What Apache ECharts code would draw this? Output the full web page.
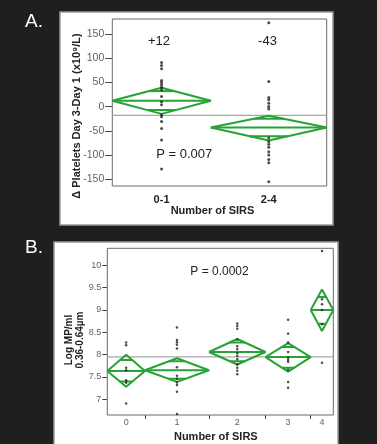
<!DOCTYPE html>
<html><head><meta charset="utf-8">
<script src="https://cdn.jsdelivr.net/npm/echarts@6/dist/echarts.min.js"></script>
<style>html,body{margin:0;padding:0;background:#1f1f1f;}#c{width:377px;height:444px;}</style>
</head><body><div id="c"></div>
<script>
// ---------- Panel A data ----------
const catsA = ['0-1', '2-4'];
const sizesA = [17, 20];
const meansA = [12, -43];
const ciHiA = [39, -19];
const ciLoA = [-15, -70];
const ovHiA = [32, -25];
const ovLoA = [-7, -61];
const grandMeanA = -18;
const ptsA0 = [91, 85, 78, 54, 50, 45, 40, 35, 21, 10, 4, -17, -21, -31, -45, -69, -129];
const ptsA1 = [173, 52, 19, 14, 7, 0, -5, -65, -72, -78, -84, -93, -100, -109, -116, -155];
const yTicksA = [-150, -100, -50, 0, 50, 100, 150];
const meanLabelsA = ['+12', '-43'];
const pLabelA = 'P = 0.007';

// ---------- Panel B data ----------
const catsB = ['0', '1', '2', '3', '4'];
const sizesB = [10, 17, 15, 12, 6];
const meansB = [7.635, 7.65, 8.06, 7.945, 9.0];
const ciHiB = [8.0, 7.92, 8.35, 8.26, 9.46];
const ciLoB = [7.28, 7.39, 7.78, 7.62, 8.53];
const ovHiB = [7.88, 7.85, 8.27, 8.17, 9.29];
const ovLoB = [7.40, 7.46, 7.85, 7.71, 8.69];
const grandMeanB = 7.95;
const ptsB0 = [8.27, 8.21, 7.71, 7.65, 7.43, 7.37, 6.91];
const ptsB1 = [8.61, 8.33, 8.28, 8.22, 8.14, 7.72, 7.53, 7.46, 7.38, 7.32, 7.17, 6.67];
const ptsB2 = [8.70, 8.64, 8.58, 8.34, 8.19, 8.12, 8.03, 7.97, 7.90, 7.78, 7.71, 7.64, 7.56];
const ptsB3 = [8.78, 8.47, 8.27, 8.06, 7.93, 7.88, 7.84, 7.66, 7.39, 7.26];
const ptsB4 = [10.32, 9.24, 9.13, 9.0, 8.68, 7.82];
const yTicksB = [7, 7.5, 8, 8.5, 9, 9.5, 10];
const pLabelB = 'P = 0.0002';

const GREEN = '#27a235';
const FONT = 'Liberation Sans';
const TICKCOL = '#5e5e7a';

function bounds(sizes) {
  let acc = 0;
  return sizes.map(s => { const b = [acc, acc + s]; acc += s; return b; });
}
function total(sizes) { return sizes.reduce((a, b) => a + b, 0); }
function centers(sizes) { return bounds(sizes).map(b => (b[0] + b[1]) / 2); }
function dividers(sizes) { return bounds(sizes).slice(0, -1).map(b => b[1]); }

function diamondSeries(idx, sizes, means, hi, lo, ovHi, ovLo) {
  const out = [];
  bounds(sizes).forEach(([x0, x1], i) => {
    const xc = (x0 + x1) / 2, h = (x1 - x0) / 2, m = means[i];
    const fu = 1 - (ovHi[i] - m) / (hi[i] - m);
    const fl = 1 - (m - ovLo[i]) / (m - lo[i]);
    const paths = [
      [[x0, m], [xc, hi[i]], [x1, m], [xc, lo[i]], [x0, m]],
      [[x0, m], [x1, m]],
      [[xc - fu * h, ovHi[i]], [xc + fu * h, ovHi[i]]],
      [[xc - fl * h, ovLo[i]], [xc + fl * h, ovLo[i]]]
    ];
    paths.forEach(d => out.push({
      type: 'line', xAxisIndex: idx, yAxisIndex: idx, data: d, symbol: 'none',
      silent: true, z: 4, lineStyle: { color: GREEN, width: 2 }
    }));
  });
  return out;
}
function pointSeries(idx, sizes, groups, size) {
  const c = centers(sizes);
  return groups.map((g, i) => ({
    type: 'scatter', xAxisIndex: idx, yAxisIndex: idx, silent: true, z: 5,
    symbol: 'circle', symbolSize: size, itemStyle: { color: '#222' },
    data: g.map(v => [c[i], v])
  }));
}
function grandSeries(idx, sizes, g) {
  return {
    type: 'line', xAxisIndex: idx, yAxisIndex: idx, symbol: 'none', silent: true, z: 3,
    lineStyle: { color: '#a8a8a8', width: 1.2 }, data: [[0, g], [total(sizes), g]]
  };
}
function xAxisFor(idx, sizes, cats, labelFont, labelBold, labelMargin, tickLen, nameGap, namePadR, nameSize) {
  const c = centers(sizes);
  return {
    type: 'value', gridIndex: idx, min: 0, max: total(sizes),
    axisLine: { show: false }, splitLine: { show: false },
    axisTick: { show: true, customValues: dividers(sizes), length: tickLen, lineStyle: { color: '#444' } },
    axisLabel: {
      show: true, customValues: c, margin: labelMargin, fontSize: labelFont, fontFamily: FONT,
      fontWeight: labelBold ? 'bold' : 'normal', color: labelBold ? '#222' : TICKCOL,
      formatter: v => { const k = c.findIndex(x => Math.abs(x - v) < 1e-6); return k >= 0 ? cats[k] : ''; }
    },
    name: 'Number of SIRS', nameLocation: 'middle', nameGap: nameGap,
    nameTextStyle: { fontFamily: FONT, fontWeight: 'bold', fontSize: nameSize, color: '#222', padding: [0, namePadR, 0, 0] }
  };
}
function yAxisFor(idx, min, max, ticks, fs, tickLen, margin) {
  return {
    type: 'value', gridIndex: idx, min: min, max: max,
    axisLine: { show: false }, splitLine: { show: false },
    axisTick: { show: true, customValues: ticks, length: tickLen, lineStyle: { color: '#444' } },
    axisLabel: { show: true, customValues: ticks, margin: margin, fontSize: fs, fontFamily: FONT, color: TICKCOL }
  };
}

const chart = echarts.init(document.getElementById('c'), null, { renderer: 'canvas' });
const option = {
  backgroundColor: '#1f1f1f',
  animation: false,
  grid: [
    { left: 112.3, top: 19, right: 50.3, bottom: 258, show: true, borderColor: '#6a6a6a', borderWidth: 1, backgroundColor: '#fff', z: 1 },
    { left: 107.3, top: 248.3, right: 43.7, bottom: 29, show: true, borderColor: '#6a6a6a', borderWidth: 1, backgroundColor: '#fff', z: 1 }
  ],
  xAxis: [
    xAxisFor(0, sizesA, catsA, 11, true, 8, 5, 19, 14, 11),
    xAxisFor(1, sizesB, catsB, 9, false, 3, 4, 16, 9, 11)
  ],
  yAxis: [
    yAxisFor(0, -164, 181, yTicksA, 10.5, 7, 8),
    yAxisFor(1, 6.65, 10.38, yTicksB, 9, 5, 6)
  ],
  graphic: [
    { type: 'rect', z: -10, shape: { x: 60, y: 12, width: 273, height: 213 }, style: { fill: '#fff', stroke: '#999', lineWidth: 1.5 } },
    { type: 'rect', z: -10, shape: { x: 54, y: 242, width: 284, height: 220 }, style: { fill: '#fff', stroke: '#999', lineWidth: 1.5 } },
    { type: 'text', z: 10, x: 25, y: 22, style: { text: 'A.', fill: '#fff', font: '19px "Liberation Sans"', align: 'left', verticalAlign: 'middle' } },
    { type: 'text', z: 10, x: 25, y: 248, style: { text: 'B.', fill: '#fff', font: '19px "Liberation Sans"', align: 'left', verticalAlign: 'middle' } },
    { type: 'text', z: 10, x: 159, y: 41, style: { text: meanLabelsA[0], fill: '#222', font: '13px "Liberation Sans"', align: 'center', verticalAlign: 'middle' } },
    { type: 'text', z: 10, x: 267.5, y: 41, style: { text: meanLabelsA[1], fill: '#222', font: '13px "Liberation Sans"', align: 'center', verticalAlign: 'middle' } },
    { type: 'text', z: 10, x: 184.3, y: 154, style: { text: pLabelA, fill: '#222', font: '13px "Liberation Sans"', align: 'center', verticalAlign: 'middle' } },
    { type: 'text', z: 10, x: 219.5, y: 272, style: { text: pLabelB, fill: '#222', font: '12px "Liberation Sans"', align: 'center', verticalAlign: 'middle' } },
    { type: 'text', z: 10, x: 76.7, y: 116, rotation: Math.PI / 2, style: { text: 'Δ Platelets Day 3-Day 1 (x10⁹/L)', fill: '#222', font: 'bold 11px "Liberation Sans"', align: 'center', verticalAlign: 'middle' } },
    { type: 'text', z: 10, x: 74.5, y: 340, rotation: Math.PI / 2, style: { text: 'Log MP/ml\n0.36-0.64µm', fill: '#222', font: 'bold 10px "Liberation Sans"', lineHeight: 11, align: 'center', verticalAlign: 'middle' } }
  ],
  series: [].concat(
    [grandSeries(0, sizesA, grandMeanA)],
    diamondSeries(0, sizesA, meansA, ciHiA, ciLoA, ovHiA, ovLoA),
    pointSeries(0, sizesA, [ptsA0, ptsA1], 3),
    [grandSeries(1, sizesB, grandMeanB)],
    diamondSeries(1, sizesB, meansB, ciHiB, ciLoB, ovHiB, ovLoB),
    pointSeries(1, sizesB, [ptsB0, ptsB1, ptsB2, ptsB3, ptsB4], 2.5)
  )
};
chart.setOption(option);
</script></body></html>
